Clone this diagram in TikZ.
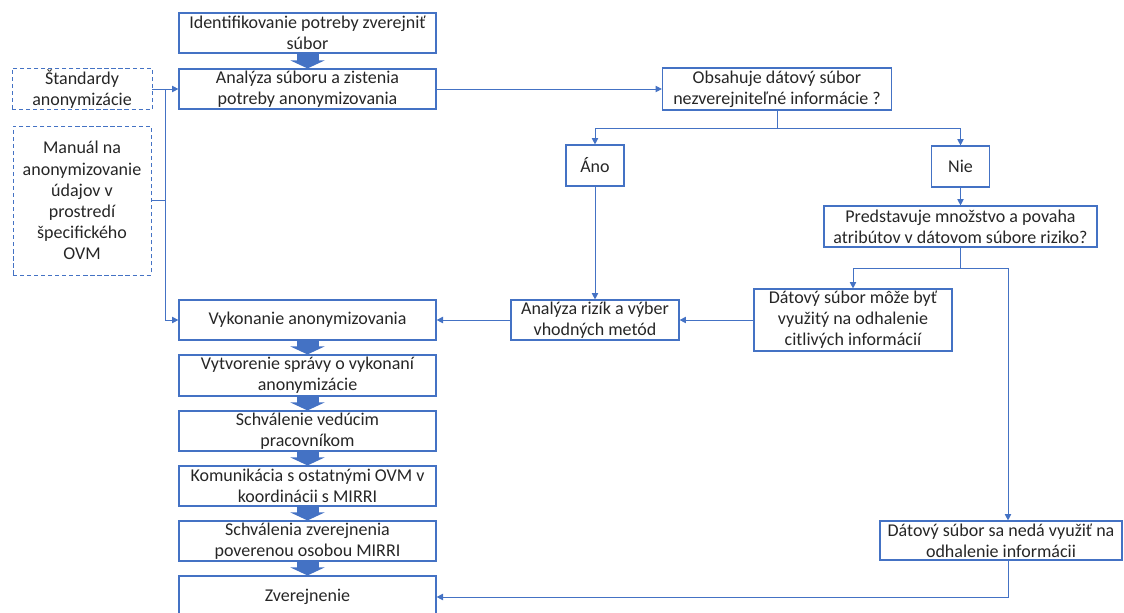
\documentclass[tikz,border=0pt]{standalone}
\usepackage{fontspec}
\setmainfont{Carlito}
\usetikzlibrary{arrows.meta}
\definecolor{officeblue}{HTML}{4472C4}
\definecolor{boxtext}{HTML}{262626}
\tikzset{
  box/.style={rectangle, draw=officeblue, line width=0.8pt, align=center, inner sep=1pt, text=boxtext, font=\fontsize{12.8}{15}\selectfont},
  dashbox/.style={box, line width=0.6pt, dash pattern=on 3pt off 2pt},
  conn/.style={draw=officeblue, line width=0.7pt, -{Triangle[length=0.16cm, width=0.16cm]}},
  line/.style={draw=officeblue, line width=0.7pt},
  blockarrow/.style={draw=officeblue, line width=0.55cm, -{Triangle[length=0.2cm, width=0.85cm]}}
}
\begin{document}
\begin{tikzpicture}[x=0.025cm, y=-0.025cm]
  \useasboundingbox (0, 0) rectangle (1124, 612);

  \node (ident) [box, minimum height=1cm, minimum width=6.425cm] at (307.5, 33) {Identifikovanie potreby zverejniť\\súbor};
  \node (analyza) [box, minimum height=1cm, minimum width=6.425cm] at (307.5, 89) {Analýza súboru a zistenia\\potreby anonymizovania};
  \node (std) [dashbox, minimum height=1cm, minimum width=3.5cm] at (82, 89) {Štandardy\\anonymizácie};
  \node (manual) [dashbox, minimum height=3.725cm, minimum width=3.45cm] at (82, 200.5) {Manuál na\\anonymizovanie\\údajov v\\prostredí\\špecifického\\OVM};
  \node (obsahuje) [box, minimum height=1.05cm, minimum width=5.725cm] at (777, 89) {Obsahuje dátový súbor\\nezverejniteľné informácie ?};
  \node (ano) [box, minimum height=1.025cm, minimum width=1.45cm] at (595, 165.5) {Áno};
  \node (nie) [box, minimum height=1.025cm, minimum width=1.45cm] at (960.5, 166.5) {Nie};
  \node (predst) [box, minimum height=1.025cm, minimum width=6.825cm] at (960.5, 226.5) {Predstavuje množstvo a povaha\\atribútov v dátovom súbore riziko?};
  \node (rizik) [box, minimum height=1cm, minimum width=4.2cm] at (595, 320) {Analýza rizík a výber\\vhodných metód};
  \node (moze) [box, minimum height=1.55cm, minimum width=4.95cm] at (853, 320) {Dátový súbor môže byť\\využitý na odhalenie\\citlivých informácií};
  \node (neda) [box, minimum height=0.975cm, minimum width=6.05cm] at (1001, 540.5) {Dátový súbor sa nedá využiť na\\odhalenie informácii};

  \node (vykon) [box, minimum height=1cm, minimum width=6.425cm] at (307.5, 320) {Vykonanie anonymizovania};
  \node (vytv) [box, minimum height=1.025cm, minimum width=6.425cm] at (307.5, 375.5) {Vytvorenie správy o vykonaní\\anonymizácie};
  \node (schval) [box, minimum height=1cm, minimum width=6.425cm] at (307.5, 431) {Schválenie vedúcim\\pracovníkom};
  \node (komun) [box, minimum height=1cm, minimum width=6.425cm] at (307.5, 486) {Komunikácia s ostatnými OVM v\\koordinácii s MIRRI};
  \node (schvzv) [box, minimum height=1cm, minimum width=6.425cm] at (307.5, 541) {Schválenia zverejnenia\\poverenou osobou MIRRI};
  \node (zverej) [box, minimum height=1.05cm, minimum width=6.425cm] at (307.5, 597) {Zverejnenie};

  \coordinate (jn) at (165, 89);
  \coordinate (split) at (777, 128);
  \coordinate (split2) at (960.5, 268);
  \coordinate (bend) at (1008, 268);

  % main column
  \draw[blockarrow] (ident) -- (analyza);
  \draw[blockarrow] (vykon) -- (vytv);
  \draw[blockarrow] (vytv) -- (schval);
  \draw[blockarrow] (schval) -- (komun);
  \draw[blockarrow] (komun) -- (schvzv);
  \draw[blockarrow] (schvzv) -- (zverej);

  % inputs on the left
  \draw[conn] (std) -- (analyza);
  \draw[line] (manual) -- (manual -| jn);
  \draw[conn] (jn) |- (vykon);

  % decision branch
  \draw[conn] (analyza) -- (obsahuje);
  \draw[conn] (obsahuje) -- (split) -| (ano);
  \draw[conn] (split) -| (nie);
  \draw[conn] (nie) -- (predst);
  \draw[conn] (ano) -- (rizik);
  \draw[conn] (predst) -- (split2) -| (moze);
  \draw[conn] (split2) -- (bend) -- (bend |- neda.north);
  \draw[conn] (moze) -- (rizik);
  \draw[conn] (rizik) -- (vykon);
  \draw[conn] (bend |- neda.south) |- (zverej);
\end{tikzpicture}
\end{document}
